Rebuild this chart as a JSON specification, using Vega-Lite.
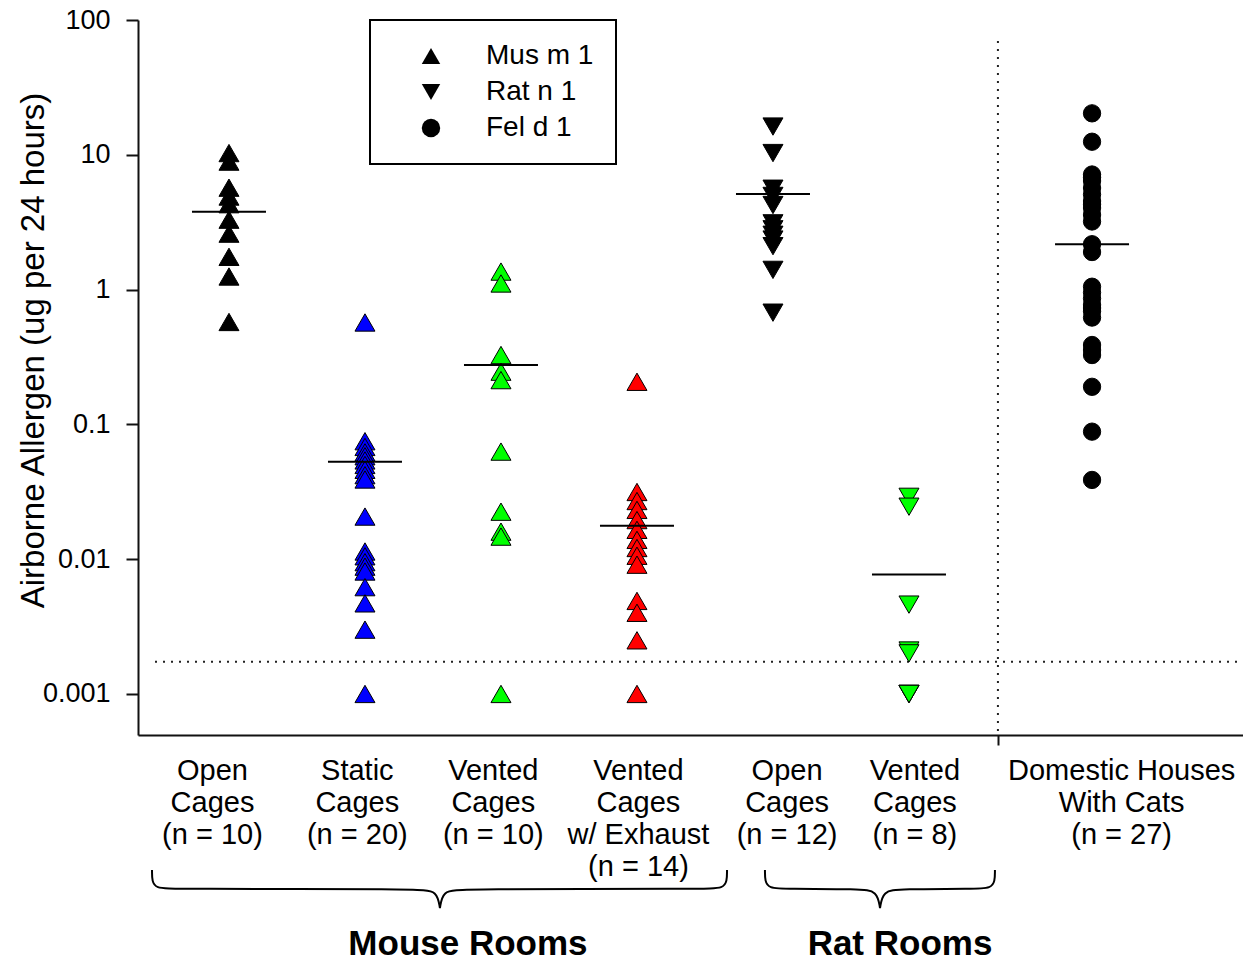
{
  "$schema": "https://vega.github.io/schema/vega-lite/v6.json",
  "width": 1105,
  "height": 715,
  "autosize": {"type": "none"},
  "padding": {"left": 138, "top": 20, "right": 0, "bottom": 228},
  "background": "white",
  "config": {
    "view": {"stroke": null},
    "font": "Liberation Sans",
    "legend": {"strokeWidth": 2}
  },
  "datasets": {
    "groups": [
      {"group": "Mouse open cages", "slot": 1, "mean": 3.78},
      {"group": "Mouse static cages", "slot": 2, "mean": 0.0528},
      {"group": "Mouse vented cages", "slot": 3, "mean": 0.276},
      {"group": "Mouse vented cages w/ exhaust", "slot": 4, "mean": 0.0177},
      {"group": "Rat open cages", "slot": 5, "mean": 5.12},
      {"group": "Rat vented cages", "slot": 6, "mean": 0.0077},
      {"group": "Houses with cats", "slot": 7.346, "mean": 2.17}
    ],
    "samples": [
      {"group": "Mouse open cages", "allergen": "Mus m 1", "value": 10.3},
      {"group": "Mouse open cages", "allergen": "Mus m 1", "value": 8.9},
      {"group": "Mouse open cages", "allergen": "Mus m 1", "value": 5.7},
      {"group": "Mouse open cages", "allergen": "Mus m 1", "value": 4.9},
      {"group": "Mouse open cages", "allergen": "Mus m 1", "value": 4.3},
      {"group": "Mouse open cages", "allergen": "Mus m 1", "value": 3.3},
      {"group": "Mouse open cages", "allergen": "Mus m 1", "value": 2.6},
      {"group": "Mouse open cages", "allergen": "Mus m 1", "value": 1.75},
      {"group": "Mouse open cages", "allergen": "Mus m 1", "value": 1.25},
      {"group": "Mouse open cages", "allergen": "Mus m 1", "value": 0.575},

      {"group": "Mouse static cages", "allergen": "Mus m 1", "value": 0.57},
      {"group": "Mouse static cages", "allergen": "Mus m 1", "value": 0.075},
      {"group": "Mouse static cages", "allergen": "Mus m 1", "value": 0.068},
      {"group": "Mouse static cages", "allergen": "Mus m 1", "value": 0.062},
      {"group": "Mouse static cages", "allergen": "Mus m 1", "value": 0.058},
      {"group": "Mouse static cages", "allergen": "Mus m 1", "value": 0.054},
      {"group": "Mouse static cages", "allergen": "Mus m 1", "value": 0.05},
      {"group": "Mouse static cages", "allergen": "Mus m 1", "value": 0.046},
      {"group": "Mouse static cages", "allergen": "Mus m 1", "value": 0.042},
      {"group": "Mouse static cages", "allergen": "Mus m 1", "value": 0.039},
      {"group": "Mouse static cages", "allergen": "Mus m 1", "value": 0.0207},
      {"group": "Mouse static cages", "allergen": "Mus m 1", "value": 0.0114},
      {"group": "Mouse static cages", "allergen": "Mus m 1", "value": 0.0105},
      {"group": "Mouse static cages", "allergen": "Mus m 1", "value": 0.0095},
      {"group": "Mouse static cages", "allergen": "Mus m 1", "value": 0.0088},
      {"group": "Mouse static cages", "allergen": "Mus m 1", "value": 0.0081},
      {"group": "Mouse static cages", "allergen": "Mus m 1", "value": 0.0062},
      {"group": "Mouse static cages", "allergen": "Mus m 1", "value": 0.0047},
      {"group": "Mouse static cages", "allergen": "Mus m 1", "value": 0.003},
      {"group": "Mouse static cages", "allergen": "Mus m 1", "value": 0.001},

      {"group": "Mouse vented cages", "allergen": "Mus m 1", "value": 1.36},
      {"group": "Mouse vented cages", "allergen": "Mus m 1", "value": 1.11},
      {"group": "Mouse vented cages", "allergen": "Mus m 1", "value": 0.327},
      {"group": "Mouse vented cages", "allergen": "Mus m 1", "value": 0.246},
      {"group": "Mouse vented cages", "allergen": "Mus m 1", "value": 0.213},
      {"group": "Mouse vented cages", "allergen": "Mus m 1", "value": 0.0628},
      {"group": "Mouse vented cages", "allergen": "Mus m 1", "value": 0.0225},
      {"group": "Mouse vented cages", "allergen": "Mus m 1", "value": 0.016},
      {"group": "Mouse vented cages", "allergen": "Mus m 1", "value": 0.0147},
      {"group": "Mouse vented cages", "allergen": "Mus m 1", "value": 0.001},

      {"group": "Mouse vented cages w/ exhaust", "allergen": "Mus m 1", "value": 0.207},
      {"group": "Mouse vented cages w/ exhaust", "allergen": "Mus m 1", "value": 0.0315},
      {"group": "Mouse vented cages w/ exhaust", "allergen": "Mus m 1", "value": 0.027},
      {"group": "Mouse vented cages w/ exhaust", "allergen": "Mus m 1", "value": 0.0232},
      {"group": "Mouse vented cages w/ exhaust", "allergen": "Mus m 1", "value": 0.0195},
      {"group": "Mouse vented cages w/ exhaust", "allergen": "Mus m 1", "value": 0.0165},
      {"group": "Mouse vented cages w/ exhaust", "allergen": "Mus m 1", "value": 0.0139},
      {"group": "Mouse vented cages w/ exhaust", "allergen": "Mus m 1", "value": 0.0121},
      {"group": "Mouse vented cages w/ exhaust", "allergen": "Mus m 1", "value": 0.0106},
      {"group": "Mouse vented cages w/ exhaust", "allergen": "Mus m 1", "value": 0.0091},
      {"group": "Mouse vented cages w/ exhaust", "allergen": "Mus m 1", "value": 0.0049},
      {"group": "Mouse vented cages w/ exhaust", "allergen": "Mus m 1", "value": 0.004},
      {"group": "Mouse vented cages w/ exhaust", "allergen": "Mus m 1", "value": 0.0025},
      {"group": "Mouse vented cages w/ exhaust", "allergen": "Mus m 1", "value": 0.001},

      {"group": "Rat open cages", "allergen": "Rat n 1", "value": 16.2},
      {"group": "Rat open cages", "allergen": "Rat n 1", "value": 10.3},
      {"group": "Rat open cages", "allergen": "Rat n 1", "value": 5.6},
      {"group": "Rat open cages", "allergen": "Rat n 1", "value": 4.95},
      {"group": "Rat open cages", "allergen": "Rat n 1", "value": 4.24},
      {"group": "Rat open cages", "allergen": "Rat n 1", "value": 3.1},
      {"group": "Rat open cages", "allergen": "Rat n 1", "value": 2.8},
      {"group": "Rat open cages", "allergen": "Rat n 1", "value": 2.55},
      {"group": "Rat open cages", "allergen": "Rat n 1", "value": 2.35},
      {"group": "Rat open cages", "allergen": "Rat n 1", "value": 2.1},
      {"group": "Rat open cages", "allergen": "Rat n 1", "value": 1.4},
      {"group": "Rat open cages", "allergen": "Rat n 1", "value": 0.674},

      {"group": "Rat vented cages", "allergen": "Rat n 1", "value": 0.029},
      {"group": "Rat vented cages", "allergen": "Rat n 1", "value": 0.0245},
      {"group": "Rat vented cages", "allergen": "Rat n 1", "value": 0.0046},
      {"group": "Rat vented cages", "allergen": "Rat n 1", "value": 0.0021},
      {"group": "Rat vented cages", "allergen": "Rat n 1", "value": 0.002},
      {"group": "Rat vented cages", "allergen": "Rat n 1", "value": 0.001},
      {"group": "Rat vented cages", "allergen": "Rat n 1", "value": 0.001},
      {"group": "Rat vented cages", "allergen": "Rat n 1", "value": 0.001},

      {"group": "Houses with cats", "allergen": "Fel d 1", "value": 20.3},
      {"group": "Houses with cats", "allergen": "Fel d 1", "value": 12.5},
      {"group": "Houses with cats", "allergen": "Fel d 1", "value": 7.14},
      {"group": "Houses with cats", "allergen": "Fel d 1", "value": 6.8},
      {"group": "Houses with cats", "allergen": "Fel d 1", "value": 6.39},
      {"group": "Houses with cats", "allergen": "Fel d 1", "value": 5.67},
      {"group": "Houses with cats", "allergen": "Fel d 1", "value": 5.08},
      {"group": "Houses with cats", "allergen": "Fel d 1", "value": 4.54},
      {"group": "Houses with cats", "allergen": "Fel d 1", "value": 4.3},
      {"group": "Houses with cats", "allergen": "Fel d 1", "value": 4.03},
      {"group": "Houses with cats", "allergen": "Fel d 1", "value": 3.58},
      {"group": "Houses with cats", "allergen": "Fel d 1", "value": 3.2},
      {"group": "Houses with cats", "allergen": "Fel d 1", "value": 2.17},
      {"group": "Houses with cats", "allergen": "Fel d 1", "value": 1.9},
      {"group": "Houses with cats", "allergen": "Fel d 1", "value": 1.05},
      {"group": "Houses with cats", "allergen": "Fel d 1", "value": 0.95},
      {"group": "Houses with cats", "allergen": "Fel d 1", "value": 0.86},
      {"group": "Houses with cats", "allergen": "Fel d 1", "value": 0.77},
      {"group": "Houses with cats", "allergen": "Fel d 1", "value": 0.73},
      {"group": "Houses with cats", "allergen": "Fel d 1", "value": 0.69},
      {"group": "Houses with cats", "allergen": "Fel d 1", "value": 0.62},
      {"group": "Houses with cats", "allergen": "Fel d 1", "value": 0.388},
      {"group": "Houses with cats", "allergen": "Fel d 1", "value": 0.356},
      {"group": "Houses with cats", "allergen": "Fel d 1", "value": 0.327},
      {"group": "Houses with cats", "allergen": "Fel d 1", "value": 0.19},
      {"group": "Houses with cats", "allergen": "Fel d 1", "value": 0.0883},
      {"group": "Houses with cats", "allergen": "Fel d 1", "value": 0.0387}
    ],
    "braces": [
      {"room": "Mouse Rooms", "step": 1, "slot": 0.434, "depth": 0},
      {"room": "Mouse Rooms", "step": 2, "slot": 0.434, "depth": 0},
      {"room": "Mouse Rooms", "step": 3, "slot": 0.434, "depth": 0.6},
      {"room": "Mouse Rooms", "step": 4, "slot": 0.463, "depth": 0.95},
      {"room": "Mouse Rooms", "step": 5, "slot": 0.581, "depth": 1},
      {"room": "Mouse Rooms", "step": 6, "slot": 2.404, "depth": 1},
      {"room": "Mouse Rooms", "step": 7, "slot": 2.529, "depth": 1.1},
      {"room": "Mouse Rooms", "step": 8, "slot": 2.551, "depth": 2},
      {"room": "Mouse Rooms", "step": 9, "slot": 2.551, "depth": 2},
      {"room": "Mouse Rooms", "step": 10, "slot": 2.551, "depth": 2},
      {"room": "Mouse Rooms", "step": 11, "slot": 2.573, "depth": 1.1},
      {"room": "Mouse Rooms", "step": 12, "slot": 2.698, "depth": 1},
      {"room": "Mouse Rooms", "step": 13, "slot": 4.515, "depth": 1},
      {"room": "Mouse Rooms", "step": 14, "slot": 4.633, "depth": 0.95},
      {"room": "Mouse Rooms", "step": 15, "slot": 4.662, "depth": 0.6},
      {"room": "Mouse Rooms", "step": 16, "slot": 4.662, "depth": 0},
      {"room": "Mouse Rooms", "step": 17, "slot": 4.662, "depth": 0},
      {"room": "Rat Rooms", "step": 1, "slot": 4.941, "depth": 0},
      {"room": "Rat Rooms", "step": 2, "slot": 4.941, "depth": 0},
      {"room": "Rat Rooms", "step": 3, "slot": 4.941, "depth": 0.6},
      {"room": "Rat Rooms", "step": 4, "slot": 4.97, "depth": 0.95},
      {"room": "Rat Rooms", "step": 5, "slot": 5.088, "depth": 1},
      {"room": "Rat Rooms", "step": 6, "slot": 5.64, "depth": 1},
      {"room": "Rat Rooms", "step": 7, "slot": 5.765, "depth": 1.1},
      {"room": "Rat Rooms", "step": 8, "slot": 5.787, "depth": 2},
      {"room": "Rat Rooms", "step": 9, "slot": 5.787, "depth": 2},
      {"room": "Rat Rooms", "step": 10, "slot": 5.787, "depth": 2},
      {"room": "Rat Rooms", "step": 11, "slot": 5.809, "depth": 1.1},
      {"room": "Rat Rooms", "step": 12, "slot": 5.934, "depth": 1},
      {"room": "Rat Rooms", "step": 13, "slot": 6.485, "depth": 1},
      {"room": "Rat Rooms", "step": 14, "slot": 6.603, "depth": 0.95},
      {"room": "Rat Rooms", "step": 15, "slot": 6.632, "depth": 0.6},
      {"room": "Rat Rooms", "step": 16, "slot": 6.632, "depth": 0},
      {"room": "Rat Rooms", "step": 17, "slot": 6.632, "depth": 0}
    ],
    "rooms": [
      {"room": "Mouse Rooms", "slot": 2.757},
      {"room": "Rat Rooms", "slot": 5.934}
    ]
  },
  "layer": [
    {
      "layer": [
        {
          "data": {"values": [{}]},
          "mark": {"type": "rule", "strokeDash": [2, 6], "strokeWidth": 2, "color": "#222"},
          "encoding": {
            "x": {"datum": 0.456, "type": "quantitative", "title": null},
            "x2": {"datum": 8.456},
            "y": {"datum": 0.00173, "type": "quantitative"}
          }
        },
        {
          "data": {"values": [{}]},
          "mark": {"type": "rule", "strokeDash": [2, 6], "strokeWidth": 2, "color": "#222"},
          "encoding": {
            "x": {"datum": 6.654, "type": "quantitative", "title": null},
            "y": {"datum": 70, "type": "quantitative"},
            "y2": {"datum": 0.000496}
          }
        },
        {
          "data": {"name": "samples"},
          "transform": [
            {"lookup": "group", "from": {"data": {"name": "groups"}, "key": "group", "fields": ["slot"]}}
          ],
          "mark": {"type": "point", "filled": true, "stroke": "black", "strokeWidth": 1, "opacity": 1},
          "encoding": {
            "x": {
              "field": "slot",
              "type": "quantitative",
              "title": null,
              "scale": {"domain": [0.331, 8.456], "nice": false, "zero": false},
              "axis": {
                "title": null,
                "grid": false,
                "values": [0.875, 1.94, 2.94, 4.007, 5.1, 6.04, 6.654, 7.56],
                "labelExpr": "datum.value < 1.5 ? ['Open', 'Cages', '(n = 10)'] : datum.value < 2.5 ? ['Static', 'Cages', '(n = 20)'] : datum.value < 3.5 ? ['Vented', 'Cages', '(n = 10)'] : datum.value < 4.5 ? ['Vented', 'Cages', 'w/ Exhaust', '(n = 14)'] : datum.value < 5.5 ? ['Open', 'Cages', '(n = 12)'] : datum.value < 6.3 ? ['Vented', 'Cages', '(n = 8)'] : datum.value < 7 ? '' : ['Domestic Houses', 'With Cats', '(n = 27)']",
                "labelOverlap": false,
                "labelFlush": false,
                "labelBound": false,
                "labelFontSize": 29,
                "labelLineHeight": 32,
                "labelColor": "black",
                "labelPadding": 11,
                "labelBaseline": "top",
                "labelLimit": 400,
                "tickSize": 10,
                "tickWidth": 2,
                "tickColor": "#111",
                "tickOpacity": {"condition": {"test": "abs(datum.value - 6.654) < 0.01", "value": 1}, "value": 0},
                "domainColor": "#111",
                "domainWidth": 2
              }
            },
            "y": {
              "field": "value",
              "type": "quantitative",
              "scale": {"type": "log", "domain": [0.000496, 100], "nice": false},
              "axis": {
                "title": "Airborne Allergen (ug per 24 hours)",
                "grid": false,
                "values": [0.001, 0.01, 0.1, 1, 10, 100],
                "format": "~g",
                "labelFontSize": 27,
                "labelColor": "black",
                "labelPadding": 16,
                "tickSize": 12,
                "tickWidth": 2,
                "tickColor": "#111",
                "domainColor": "#111",
                "domainWidth": 2,
                "titleFontSize": 33,
                "titleFontWeight": "normal",
                "titleColor": "black",
                "titleX": -105,
                "titleY": 330,
                "titleAngle": -90,
                "titleAlign": "center",
                "titleBaseline": "middle"
              }
            },
            "fill": {
              "field": "group",
              "type": "nominal",
              "scale": {
                "domain": ["Mouse open cages", "Mouse static cages", "Mouse vented cages", "Mouse vented cages w/ exhaust", "Rat open cages", "Rat vented cages", "Houses with cats"],
                "range": ["#000000", "#0000ff", "#00ff00", "#ff0000", "#000000", "#00ff00", "#000000"]
              },
              "legend": null
            },
            "shape": {
              "field": "allergen",
              "type": "nominal",
              "scale": {"domain": ["Mus m 1", "Rat n 1", "Fel d 1"], "range": ["triangle-up", "triangle-down", "circle"]},
              "legend": {
                "title": null,
                "orient": "none",
                "legendX": 232,
                "legendY": 0,
                "padding": 22,
                "fillColor": "white",
                "strokeColor": "black",
                "labelFontSize": 28,
                "labelColor": "black",
                "labelOffset": 41,
                "labelLimit": 300,
                "symbolOffset": 25,
                "symbolSize": 340,
                "symbolFillColor": "black",
                "symbolStrokeColor": "black",
                "symbolStrokeWidth": 0,
                "symbolOpacity": 1,
                "rowPadding": 8
              }
            },
            "size": {"condition": {"test": "datum.allergen === 'Fel d 1'", "value": 300}, "value": 400}
          }
        },
        {
          "data": {"name": "groups"},
          "mark": {"type": "tick", "orient": "horizontal", "size": 74, "thickness": 2, "color": "black", "opacity": 1},
          "encoding": {
            "x": {"field": "slot", "type": "quantitative", "title": null},
            "y": {"field": "mean", "type": "quantitative"}
          }
        }
      ]
    },
    {
      "layer": [
        {
          "data": {"name": "braces"},
          "mark": {"type": "line", "interpolate": "basis", "color": "black", "strokeWidth": 2},
          "encoding": {
            "x": {"field": "slot", "type": "quantitative", "title": null},
            "y": {"field": "depth", "type": "quantitative", "scale": {"domain": [0, 2], "range": [850, 888]}, "axis": null},
            "detail": {"field": "room"},
            "order": {"field": "step"}
          }
        },
        {
          "data": {"name": "rooms"},
          "mark": {"type": "text", "fontSize": 35, "fontWeight": "bold", "color": "black", "baseline": "middle", "align": "center"},
          "encoding": {
            "x": {"field": "slot", "type": "quantitative", "title": null},
            "y": {"datum": 3.9, "type": "quantitative"},
            "text": {"field": "room"}
          }
        }
      ]
    }
  ],
  "resolve": {"scale": {"y": "independent"}, "axis": {"y": "independent"}}
}
